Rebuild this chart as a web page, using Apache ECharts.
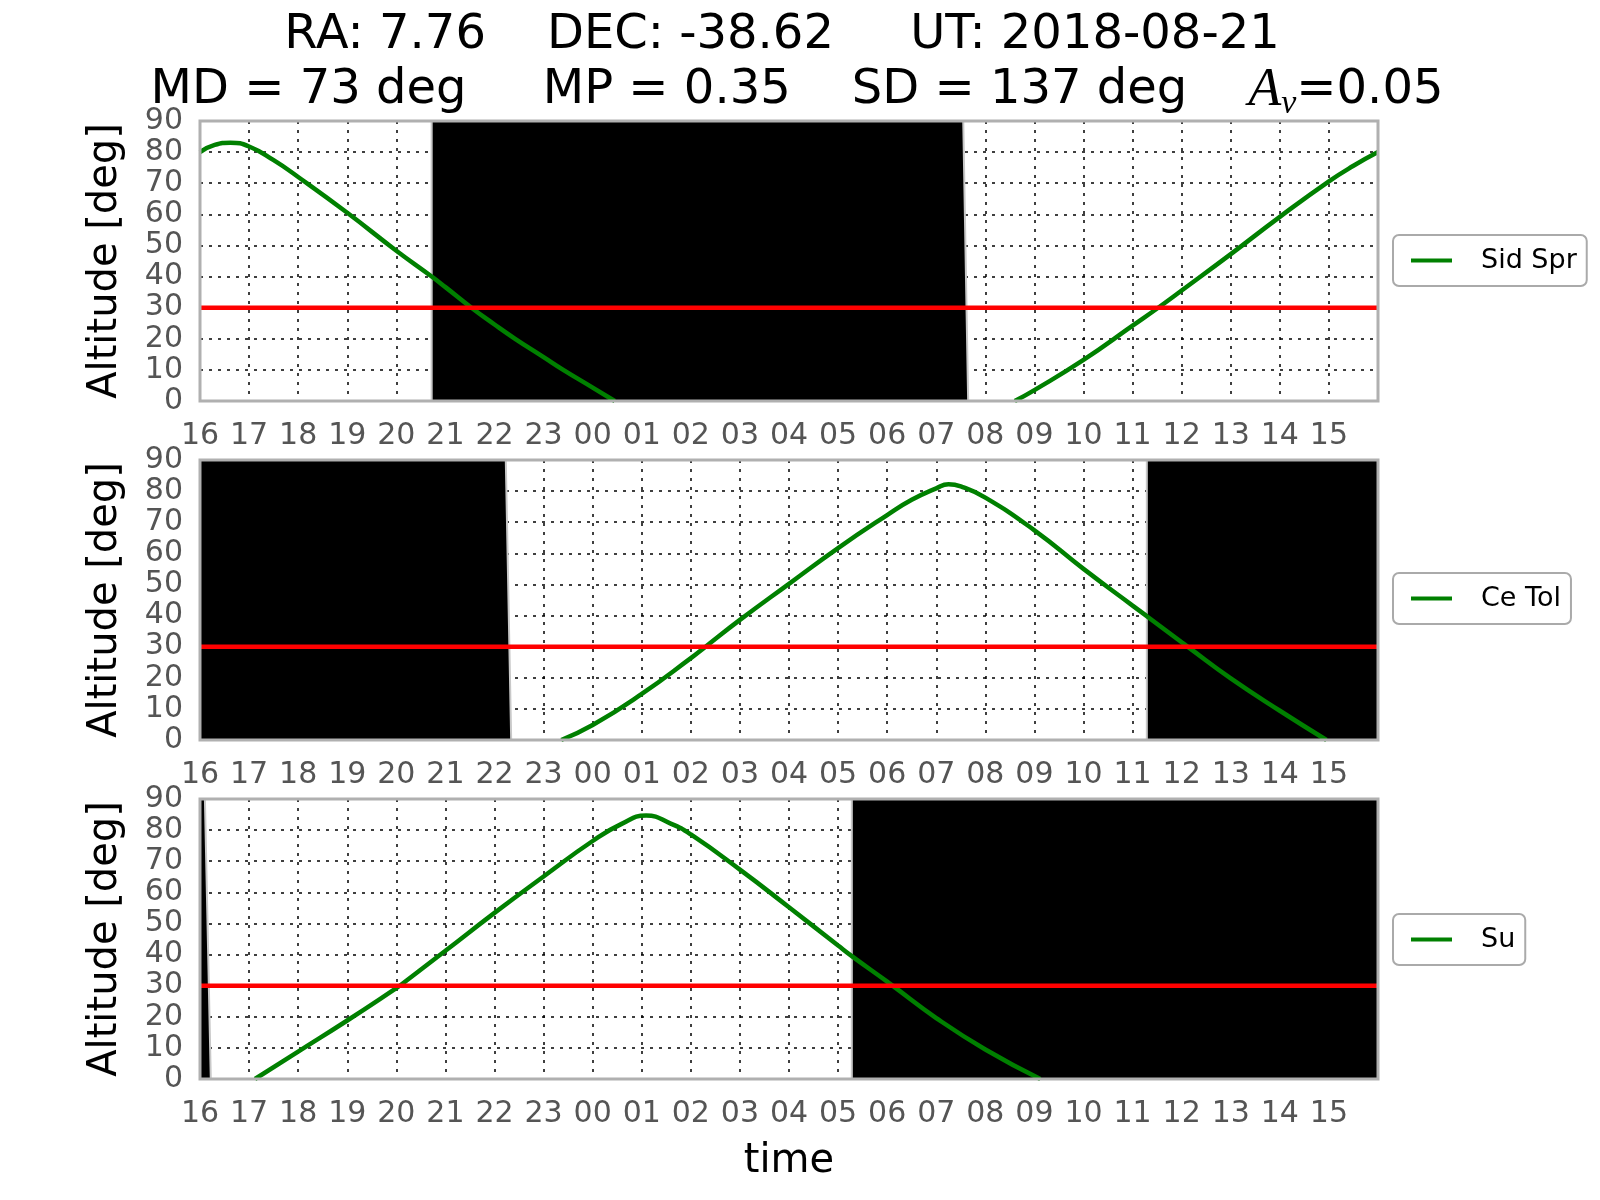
<!DOCTYPE html>
<html>
<head>
<meta charset="utf-8">
<script src="https://cdn.jsdelivr.net/npm/echarts@6/dist/echarts.min.js"></script>
<style>
html, body { margin: 0; background: #fff; }
#chart { width: 1600px; height: 1200px; }
</style>
</head>
<body>
<div id="chart"></div>
<script>
// x = hours after 16:00 UT
var hourLabels = ['16', '17', '18', '19', '20', '21', '22', '23', '00', '01', '02', '03',
    '04', '05', '06', '07', '08', '09', '10', '11', '12', '13', '14', '15'];
var limitAlt = 30;
var names = ['Sid Spr', 'Ce Tol', 'Su'];

// altitude curves [hour, deg]
var sidSprSet = [[0, 80], [0.3, 82.3], [0.62, 83], [1, 81.8], [1.5, 77.4], [2, 72], [3, 60.5], [4, 48.3],
    [4.72, 40], [5, 36.6], [5.53, 30], [6, 24.6], [6.42, 20], [7, 14.1], [7.4, 10], [8, 4.3], [8.45, 0]];
var sidSprRise = [[16.6, 0], [17, 3.5], [18, 13.2], [19, 24.2], [19.55, 30.3], [20, 35.5], [21, 47.2],
    [22, 59.2], [23, 70.6], [23.5, 75.6], [24, 80]];
var ceTol = [[7.36, 0], [8, 4.8], [9, 14.8], [10, 26.3], [10.3, 30], [11, 38.6], [12, 50.2], [13, 61.7],
    [14, 72.3], [14.5, 77.2], [15, 80.9], [15.25, 82.2], [15.5, 81.5], [16, 77.9], [17, 67.4], [18, 55],
    [19, 43.2], [19.29, 39.8], [20, 31.4], [20.12, 30], [21, 19.8], [22, 9.4], [22.95, 0]];
var su = [[1.12, 0], [2, 8.8], [3, 18.8], [4, 29.2], [4.07, 30], [5, 41.2], [6, 53.4], [7, 65.1], [8, 76.5],
    [8.59, 82], [9.09, 84.7], [9.59, 82.1], [10, 78.6], [11, 67.3], [12, 55.2], [13, 42.9], [13.28, 39.5],
    [14, 31.3], [14.11, 30], [15, 19.6], [16, 9.5], [17.12, 0]];

// dark time blocks
var night1 = [[4.72, 0], [4.72, 90], [15.55, 90], [15.65, 0]];
var night2a = [[0, 0], [0, 90], [6.23, 90], [6.34, 0]];
var night2b = [[19.29, 0], [19.29, 90], [24, 90], [24, 0]];
var night3a = [[0, 0], [0, 90], [0.1, 90], [0.22, 0]];
var night3b = [[13.28, 0], [13.28, 90], [24, 90], [24, 0]];

var curves = [[sidSprSet, sidSprRise], [ceTol], [su]];
var nights = [[night1], [night2a, night2b], [night3a, night3b]];

var font = 'DejaVu Sans';
var tops = [121, 460, 799];
var legendTops = [235, 573, 914];

var chart = echarts.init(document.getElementById('chart'));

var grids = [], xAxes = [], yAxes = [], series = [], legends = [], graphics = [];

for (var i = 0; i < 3; i++) {
    grids.push({left: 200, top: tops[i], width: 1178, height: 280});
    xAxes.push({
        type: 'value', gridIndex: i, min: 0, max: 24, interval: 1,
        axisLine: {show: false}, axisTick: {show: false},
        splitLine: {show: true, lineStyle: {color: '#000', type: [3, 6], width: 1.5}},
        axisLabel: {
            fontSize: 30, color: '#555', fontFamily: font, margin: 20,
            formatter: function (v) { return hourLabels[v] || ''; }
        },
        name: i === 2 ? 'time' : '', nameLocation: 'middle', nameGap: 63,
        nameTextStyle: {fontSize: 40, color: '#000', fontFamily: font}
    });
    yAxes.push({
        type: 'value', gridIndex: i, min: 0, max: 90, interval: 10,
        axisLine: {show: false}, axisTick: {show: false},
        splitLine: {show: true, lineStyle: {color: '#000', type: [3, 6], width: 1.5}},
        axisLabel: {fontSize: 30, color: '#555', fontFamily: font, margin: 17},
        name: 'Altitude [deg]', nameLocation: 'middle', nameGap: 74, nameRotate: 90,
        nameTextStyle: {fontSize: 40, color: '#000', fontFamily: font}
    });
    nights[i].forEach(function (d) {
        series.push({
            type: 'line', xAxisIndex: i, yAxisIndex: i, data: d, symbol: 'none', silent: true,
            lineStyle: {color: '#c8c8c8', width: 2},
            areaStyle: {color: '#000', opacity: 1}, z: 1
        });
    });
    curves[i].forEach(function (d) {
        series.push({
            type: 'line', name: names[i], xAxisIndex: i, yAxisIndex: i, data: d,
            smooth: 0.5, symbol: 'none',
            lineStyle: {color: '#008000', width: 4.5}, itemStyle: {color: '#008000'}, z: 3
        });
    });
    series.push({
        type: 'line', xAxisIndex: i, yAxisIndex: i, data: [[0, limitAlt], [24, limitAlt]],
        symbol: 'none', silent: true, lineStyle: {color: '#ff0000', width: 4.5}, z: 4
    });
    legends.push({
        data: [names[i]], left: 1393, top: legendTops[i], orient: 'vertical',
        icon: 'rect', itemWidth: 41, itemHeight: 4, selectedMode: false,
        backgroundColor: '#fff', borderColor: '#aaa', borderWidth: 2, borderRadius: 6,
        padding: [12, 10, 12, 18],
        textStyle: {fontSize: 27, color: '#000', fontFamily: font, padding: [0, 0, 0, 24]}
    });
    graphics.push({
        type: 'rect', shape: {x: 200, y: tops[i], width: 1178, height: 280},
        style: {fill: 'none', stroke: '#b0b0b0', lineWidth: 3}, z: 100, silent: true
    });
}

graphics.push({
    type: 'text', x: 782, y: 36, silent: true,
    style: {
        text: 'RA: 7.76    DEC: -38.62     UT: 2018-08-21',
        font: '48px "DejaVu Sans"', fill: '#000', align: 'center', verticalAlign: 'middle'
    }
});
graphics.push({
    type: 'text', x: 797, y: 91, silent: true,
    style: {
        text: '{n|MD = 73 deg     MP = 0.35    SD = 137 deg    }{a|A}{s|v}{n|=0.05}',
        align: 'center', verticalAlign: 'middle',
        rich: {
            n: {fontSize: 48, fontFamily: font, lineHeight: 60, fill: '#000'},
            a: {fontSize: 54, fontFamily: 'Liberation Serif', fontStyle: 'italic', lineHeight: 60, fill: '#000'},
            s: {fontSize: 34, fontFamily: 'Liberation Serif', fontStyle: 'italic', lineHeight: 30,
                verticalAlign: 'bottom', fill: '#000'}
        }
    }
});

var option = {
    backgroundColor: '#fff',
    animation: false,
    grid: grids,
    xAxis: xAxes,
    yAxis: yAxes,
    legend: legends,
    series: series,
    graphic: graphics
};

option && chart.setOption(option);
</script>
</body>
</html>
